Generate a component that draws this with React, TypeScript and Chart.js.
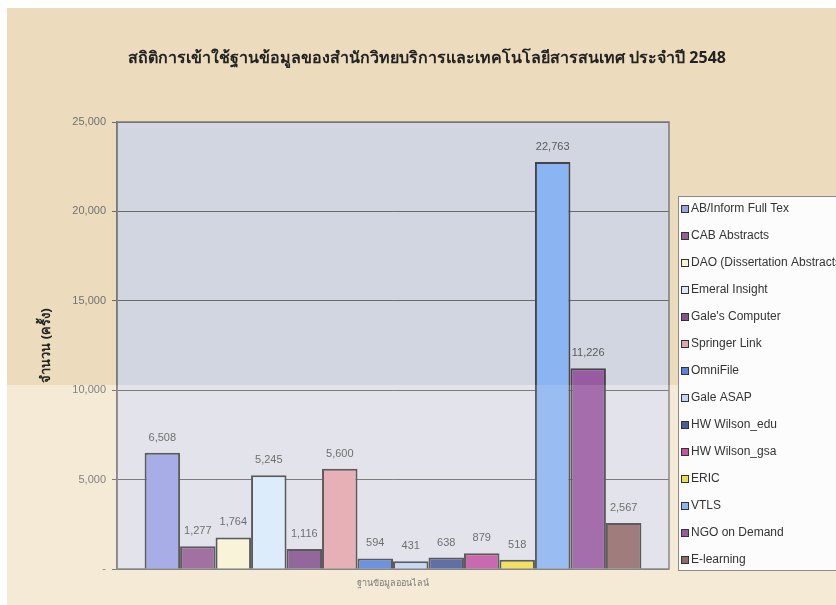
import React, { useEffect, useRef } from "react";
import { Chart, registerables } from "chart.js";

Chart.register(...registerables);

const chartTitle =
  "สถิติการเข้าใช้ฐานข้อมูลของสำนักวิทยบริการและเทคโนโลยีสารสนเทศ ประจำปี 2548";
const yAxisTitle = "จำนวน (ครั้ง)";
const categories = ["ฐานข้อมูลออนไลน์"];
const seriesNames = [
  "AB/Inform Full Tex",
  "CAB Abstracts",
  "DAO (Dissertation Abstracts)",
  "Emeral Insight",
  "Gale's Computer",
  "Springer Link",
  "OmniFile",
  "Gale ASAP",
  "HW Wilson_edu",
  "HW Wilson_gsa",
  "ERIC",
  "VTLS",
  "NGO on Demand",
  "E-learning",
];
const seriesValues = [6508, 1277, 1764, 5245, 1116, 5600, 594, 431, 638, 879, 518, 22763, 11226, 2567];
const seriesColors = [
  "#9ca1e4",
  "#955f95",
  "#f8f2d4",
  "#d9eafa",
  "#85528e",
  "#e3a5ac",
  "#5784dc",
  "#c2d3f4",
  "#4a5c9a",
  "#c455a4",
  "#eedd4c",
  "#8bb4f2",
  "#985ba2",
  "#936a6a",
];
const yTickLabels = ["-", "5,000", "10,000", "15,000", "20,000", "25,000"];

const fmt = (v: number) => v.toLocaleString("en-US");

const decorPlugin = {
  id: "decor",
  beforeDraw(chart: any) {
    const { ctx, width, height, chartArea: a } = chart;
    ctx.save();
    ctx.fillStyle = "#ffffff";
    ctx.fillRect(0, 0, width, height);
    ctx.fillStyle = "#ecdcbd";
    ctx.fillRect(7, 8, width - 7, 385 - 8);
    ctx.fillStyle = "#f3e7d0";
    ctx.fillRect(7, 385, width - 7, height - 385);
    ctx.fillStyle = "#d2d6e0";
    ctx.fillRect(a.left, a.top, a.right - a.left, 385 - a.top);
    ctx.fillStyle = "#e0e1e9";
    ctx.fillRect(a.left, 385, a.right - a.left, a.bottom - 385);
    ctx.restore();
  },
  beforeDatasetsDraw(chart: any) {
    const { ctx, chartArea: a } = chart;
    ctx.save();
    ctx.strokeStyle = "#7a7a7a";
    ctx.lineWidth = 1.5;
    ctx.strokeRect(a.left, a.top, a.right - a.left, a.bottom - a.top);
    ctx.restore();
  },
  afterDatasetsDraw(chart: any) {
    const { ctx } = chart;
    ctx.save();
    ctx.font = "11px 'Liberation Sans', Arial, sans-serif";
    ctx.fillStyle = "#5a5a5a";
    ctx.textAlign = "center";
    ctx.textBaseline = "middle";
    chart.data.datasets.forEach((ds: any, i: number) => {
      const meta = chart.getDatasetMeta(i);
      const el = meta.data[0];
      if (!el) return;
      ctx.fillText(fmt(ds.data[0]), el.x, el.y - 15);
    });
    ctx.restore();
  },
  afterDraw(chart: any) {
    const { ctx, width, height } = chart;
    ctx.save();
    // scan tone band (subtle)
    ctx.fillStyle = "rgba(255,255,255,0.12)";
    ctx.fillRect(7, 385, width - 7, height - 385);
    // legend
    const lx = 678.5;
    const ly = 196.5;
    ctx.fillStyle = "#fcfcfc";
    ctx.fillRect(lx, ly, width - lx + 5, 374);
    ctx.strokeStyle = "#8a8a8a";
    ctx.lineWidth = 1;
    ctx.strokeRect(lx, ly, width - lx + 5, 374);
    ctx.font = "12px 'Liberation Sans', Arial, sans-serif";
    ctx.textAlign = "left";
    ctx.textBaseline = "middle";
    chart.data.datasets.forEach((ds: any, i: number) => {
      const y = 209 + i * 27;
      ctx.fillStyle = ds.backgroundColor;
      ctx.fillRect(681.5, y - 3.5, 7, 7);
      ctx.strokeStyle = "#333333";
      ctx.strokeRect(681.5, y - 3.5, 7, 7);
      ctx.fillStyle = "#333333";
      ctx.fillText(ds.label, 691, y);
    });
    // title
    ctx.font = "bold 16px 'Noto Sans', 'DejaVu Sans', sans-serif";
    ctx.fillStyle = "#222222";
    ctx.textAlign = "center";
    ctx.fillText(chartTitle, 427, 58);
    ctx.restore();
  },
};

export default function App() {
  const ref = useRef<HTMLCanvasElement>(null);
  useEffect(() => {
    if (!ref.current) return;
    const chart = new Chart(ref.current, {
      type: "bar",
      data: {
        labels: categories,
        datasets: seriesNames.map((name, i) => ({
          label: name,
          data: [seriesValues[i]],
          backgroundColor: seriesColors[i],
          borderColor: "#454545",
          borderWidth: 2,
          barPercentage: 1,
          categoryPercentage: 0.9,
        })),
      },
      options: {
        responsive: false,
        animation: false,
        devicePixelRatio: 1,
        layout: { padding: { left: 7, top: 122, right: 167, bottom: 0 } },
        plugins: {
          legend: { display: false },
          tooltip: { enabled: false },
          title: { display: false },
        },
        scales: {
          x: {
            grid: { display: false, drawTicks: false },
            border: { display: false },
            ticks: {
              padding: 9,
              color: "#6a6a6a",
              font: { size: 9, family: "'Noto Sans', sans-serif" },
            },
            afterFit: (s: any) => {
              s.height = 36;
            },
          },
          y: {
            min: 0,
            max: 25000,
            ticks: {
              stepSize: 5000,
              padding: 6,
              color: "#707070",
              font: { size: 11, family: "'Liberation Sans', Arial, sans-serif" },
              callback: (_v: any, i: number) => yTickLabels[i],
            },
            grid: { color: "#6a6a6a", lineWidth: 1, tickLength: 5, drawTicks: true },
            border: { display: true, color: "#7a7a7a", width: 1.5 },
            title: {
              display: true,
              text: yAxisTitle,
              color: "#222222",
              font: { size: 13, weight: "bold", family: "'Noto Sans', sans-serif" },
              padding: { top: 31, bottom: 0 },
            },
            afterFit: (s: any) => {
              s.width = 110;
            },
          },
        },
      },
      plugins: [decorPlugin],
    });
    return () => chart.destroy();
  }, []);
  return (
    <div style={{ position: "absolute", left: 0, top: 0, width: 836, height: 605, overflow: "hidden" }}>
      <canvas ref={ref} width={836} height={605} />
    </div>
  );
}
